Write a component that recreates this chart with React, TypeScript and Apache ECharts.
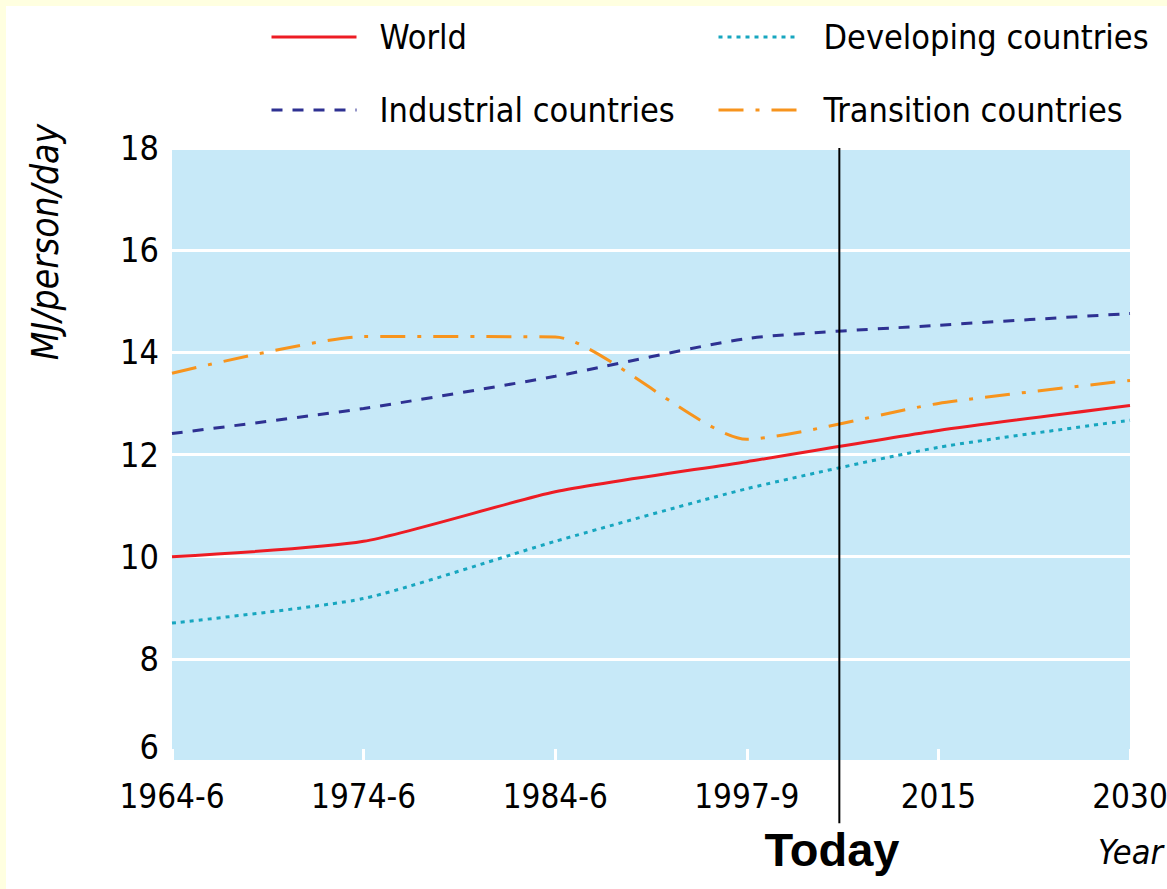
import React, { useEffect, useRef } from "react";
import * as echarts from "echarts";

const categories = ["1964-6", "1974-6", "1984-6", "1997-9", "2015", "2030"];
const world = [10.0, 10.3, 11.27, 11.86, 12.47, 12.96];
const developing = [8.7, 9.18, 10.3, 11.33, 12.14, 12.67];
const industrial = [12.41, 12.9, 13.53, 14.27, 14.53, 14.76];
const transition = [13.59, 14.31, 14.3, 12.3, 13.0, 13.45];
const todayPosition = 3.483;
const todayLine = [
  [todayPosition, 18],
  [todayPosition, 4.78],
];

const NARROW = "'DejaVu Sans Condensed', 'Liberation Sans', sans-serif";
const BOLD = "'Liberation Sans', Arial, sans-serif";
const FS = 34;

export default function App() {
  const ref = useRef<HTMLDivElement>(null);
  useEffect(() => {
    document.body.style.margin = "0";
    const chart = echarts.init(ref.current!, null, { renderer: "svg" });
    const legendText = { fontFamily: NARROW, fontSize: FS, color: "#000", padding: [0, 0, 0, 18] };
    chart.setOption({
      animation: false,
      backgroundColor: "transparent",
      grid: {
        left: 172,
        right: 37,
        top: 148,
        bottom: 128,
        show: true,
        backgroundColor: "#C7E9F8",
        borderWidth: 0,
        containLabel: false,
        outerBoundsMode: "none",
      },
      legend: [
        {
          data: ["World", "Industrial countries"],
          orient: "vertical",
          left: 265,
          top: 15,
          itemWidth: 85,
          itemHeight: 20,
          itemGap: 39,
          textStyle: legendText,
          itemStyle: { opacity: 0 },
          lineStyle: { width: 3 },
          selectedMode: false,
        },
        {
          data: ["Developing countries", "Transition countries"],
          orient: "vertical",
          left: 712,
          top: 15,
          itemWidth: 78,
          itemHeight: 20,
          itemGap: 39,
          textStyle: { ...legendText, padding: [0, 0, 0, 22] },
          itemStyle: { opacity: 0 },
          lineStyle: { width: 3 },
          selectedMode: false,
        },
      ],
      xAxis: [
        {
          type: "category",
          data: categories,
          boundaryGap: false,
          axisLine: { show: false },
          axisTick: { show: true, inside: true, length: 12, lineStyle: { color: "#fff", width: 3 } },
          axisLabel: { fontFamily: NARROW, fontSize: 33, color: "#000", margin: 19 },
          splitLine: { show: false },
        },
        { type: "value", min: 0, max: 5, show: false },
      ],
      yAxis: {
        type: "value",
        min: 6,
        max: 18,
        interval: 2,
        axisLine: { show: false },
        axisTick: { show: false },
        axisLabel: {
          fontFamily: NARROW,
          fontSize: FS,
          color: "#000",
          margin: 13,
          formatter: (v: number) => (v === 6 ? "{low|6}" : String(v)),
          rich: { low: { fontFamily: NARROW, fontSize: FS, color: "#000", padding: [0, 0, 28, 0] } },
        },
        splitLine: { show: true, lineStyle: { color: "#fff", width: 3 } },
      },
      graphic: [
        {
          type: "text",
          x: 45,
          y: 242,
          rotation: Math.PI / 2,
          style: {
            text: "MJ/person/day",
            fontFamily: NARROW,
            fontSize: 37,
            fontStyle: "italic",
            fill: "#000",
            align: "center",
            verticalAlign: "middle",
          },
        },
        {
          type: "text",
          x: 832,
          y: 849,
          style: { text: "Today", fontFamily: BOLD, fontSize: 47, fontWeight: "bold", fill: "#000", align: "center", verticalAlign: "middle" },
        },
        {
          type: "text",
          x: 1163,
          y: 852,
          style: { text: "Year", fontFamily: NARROW, fontSize: 34, fontStyle: "italic", fill: "#000", align: "right", verticalAlign: "middle" },
        },
      ],
      series: [
        {
          name: "World",
          type: "line",
          data: world,
          symbol: "none",
          smooth: 0.2,
          lineStyle: { color: "#ED1C24", width: 3, type: "solid" },
          itemStyle: { color: "#ED1C24" },
        },
        {
          name: "Developing countries",
          type: "line",
          data: developing,
          symbol: "none",
          smooth: 0.2,
          lineStyle: { color: "#17A6BF", width: 3, type: [4, 5] },
          itemStyle: { color: "#17A6BF" },
        },
        {
          name: "Industrial countries",
          type: "line",
          data: industrial,
          symbol: "none",
          smooth: 0.2,
          lineStyle: { color: "#2E3192", width: 3, type: [11, 10] },
          itemStyle: { color: "#2E3192" },
        },
        {
          name: "Transition countries",
          type: "line",
          data: transition,
          symbol: "none",
          smooth: 0.2,
          lineStyle: { color: "#F7941D", width: 3, type: [25, 12, 4, 12] },
          itemStyle: { color: "#F7941D" },
        },
        {
          name: "Today",
          type: "line",
          xAxisIndex: 1,
          data: todayLine,
          symbol: "none",
          clip: false,
          silent: true,
          lineStyle: { color: "#000", width: 2 },
          z: 5,
        },
      ],
    });
    return () => chart.dispose();
  }, []);
  return (
    <div style={{ position: "relative", width: 1167, height: 889, background: "#FFFFE0" }}>
      <div style={{ position: "absolute", left: 6, top: 6, right: 0, bottom: 0, background: "#fff" }} />
      <div ref={ref} style={{ position: "absolute", left: 0, top: 0, width: 1167, height: 889 }} />
    </div>
  );
}
